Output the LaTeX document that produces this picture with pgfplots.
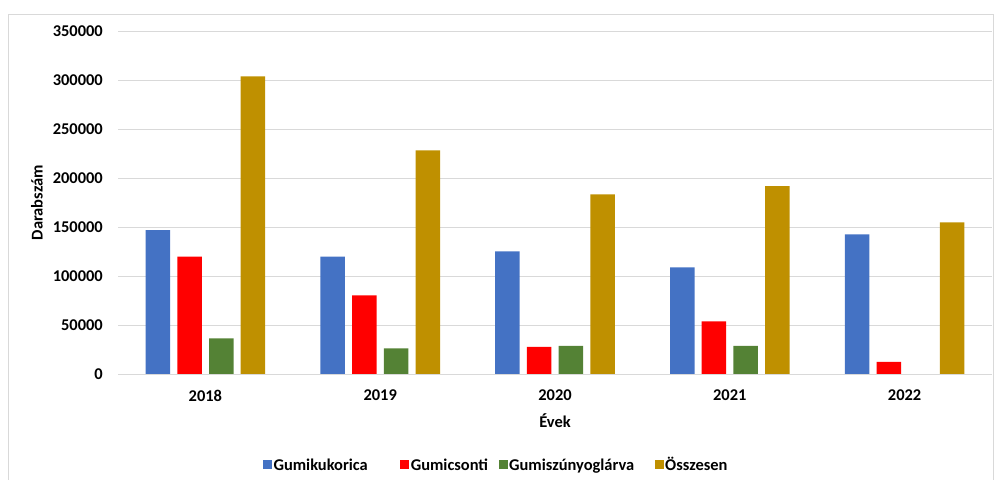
\documentclass[border=0pt]{standalone}
\usepackage{fontspec}
\setmainfont{Carlito}
\usepackage{pgfplots}
\pgfplotsset{compat=1.18}
\definecolor{cblue}{HTML}{4472C4}
\definecolor{cred}{HTML}{FF0000}
\definecolor{cgreen}{HTML}{548235}
\definecolor{cgold}{HTML}{BF9000}
\definecolor{cgrid}{HTML}{D9D9D9}
\begin{document}
\begin{tikzpicture}
\path[use as bounding box] (0,0) rectangle (994bp,480bp);
\draw[cgrid, line width=1bp] (8.5bp,-2bp) rectangle (993.5bp,465.5bp);
\begin{axis}[
  at={(118bp,106bp)}, anchor=south west,
  scale only axis, width=874bp, height=342.7bp,
  ymin=0, ymax=350000, ytick={0,50000,100000,150000,200000,250000,300000,350000},
  yticklabels={0,50000,100000,150000,200000,250000,300000,350000},
  xmin=-0.5, xmax=4.5, xtick={0,1,2,3,4},
  xticklabels={2018,2019,2020,2021,2022},
  axis line style={draw=none},
  major tick length=0pt,
  ymajorgrids, grid style={cgrid, line width=1bp},
  scaled y ticks=false,
  tick label style={font=\fontsize{16.5}{19}\selectfont\bfseries},
  yticklabel style={anchor=east, inner sep=0pt, xshift=-15bp},
  xticklabel style={anchor=north, inner sep=0pt, yshift=-16bp},
  ybar=7.2bp, bar width=24.5bp,
  xlabel={Évek}, ylabel={Darabszám},
  label style={font=\fontsize{16.5}{19}\selectfont\bfseries},
  xlabel style={at={(axis description cs:0.5,-0.137)}, anchor=center},
  ylabel style={at={(axis description cs:-0.0927,0.5)}, anchor=center},
  legend columns=4,
  legend cell align=left,
  legend style={draw=none, at={(axis description cs:0.4325,-0.2655)}, anchor=center,
    font=\fontsize{16.5}{19}\selectfont\bfseries,
    nodes={inner sep=1.5bp}},
  legend image code/.code={\fill[#1] (0bp,-4.5bp) rectangle (9bp,4.5bp);},
]
\addplot[fill=cblue, draw=none] coordinates {(0,147000) (1,120000) (2,125300) (3,108900) (4,142600)};
\addplot[fill=cred, draw=none] coordinates {(0,119800) (1,80300) (2,27600) (3,53800) (4,12300)};
\addplot[fill=cgreen, draw=none] coordinates {(0,36400) (1,26200) (2,28600) (3,28600)};
\addplot[fill=cgold, draw=none] coordinates {(0,304000) (1,228400) (2,183500) (3,192000) (4,154900)};
\legend{Gumikukorica\rule{31bp}{0pt},Gumicsonti\rule{9bp}{0pt},Gumiszúnyoglárva\rule{19bp}{0pt},Összesen}
\end{axis}
\end{tikzpicture}
\end{document}
